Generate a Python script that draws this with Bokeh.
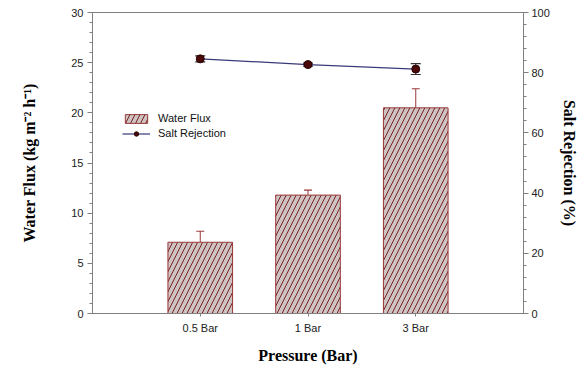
from bokeh.plotting import figure
from bokeh.models import Range1d, LinearAxis, FixedTicker, Whisker, TeeHead, ColumnDataSource, Legend, LegendItem
from bokeh.embed import file_html
from bokeh.resources import INLINE

categories = ["0.5 Bar", "1 Bar", "3 Bar"]
water_flux = [7.1, 11.8, 20.5]
water_flux_err = [1.1, 0.5, 1.9]
salt_rejection = [84.6, 82.7, 81.2]
salt_rejection_err = [1.0, 0.5, 1.8]
left_ticks = [0, 5, 10, 15, 20, 25, 30]
right_ticks = [0, 20, 40, 60, 80, 100]

xpos = [i + 1 for i in range(len(categories))]
src = ColumnDataSource(dict(
    x=xpos, wf=water_flux,
    wf_up=[v + e for v, e in zip(water_flux, water_flux_err)],
    sr=salt_rejection,
    sr_lo=[v - e for v, e in zip(salt_rejection, salt_rejection_err)],
    sr_up=[v + e for v, e in zip(salt_rejection, salt_rejection_err)],
))

p = figure(width=586, height=367, output_backend="svg", toolbar_location=None,
           x_range=Range1d(0, len(categories) + 1), y_range=Range1d(0, 30),
           min_border_left=92, min_border_right=63, min_border_top=12, min_border_bottom=54)
p.extra_y_ranges = {"sr": Range1d(0, 100)}
p.grid.visible = False
p.outline_line_color = "#808080"
p.background_fill_color = "white"
p.border_fill_color = "white"

axis_grey = "#808080"
tick_col = "#222222"

# x axis
xa = p.xaxis[0]
xa.ticker = FixedTicker(ticks=xpos)
xa.major_label_overrides = {x: c for x, c in zip(xpos, categories)}
xa.minor_tick_line_color = None
xa.major_tick_in = 0
xa.major_tick_out = 3
xa.axis_line_color = axis_grey
xa.major_tick_line_color = axis_grey
xa.major_label_text_font = "Liberation Sans"
xa.major_label_text_font_size = "11px"
xa.major_label_text_color = tick_col
xa.major_label_standoff = 5
xa.axis_label = "Pressure (Bar)"
xa.axis_label_text_font = "Liberation Serif"
xa.axis_label_text_font_style = "bold"
xa.axis_label_text_font_size = "16px"
xa.axis_label_text_color = "black"
xa.axis_label_standoff = 10

ya = p.yaxis[0]
ya.ticker = FixedTicker(ticks=left_ticks, minor_ticks=list(range(0, 31)))
ya.axis_line_color = axis_grey
ya.major_tick_line_color = axis_grey
ya.minor_tick_line_color = axis_grey
ya.major_tick_in = 0
ya.major_tick_out = 5
ya.minor_tick_in = 0
ya.minor_tick_out = 3
ya.major_label_text_font = "Liberation Sans"
ya.major_label_text_font_size = "11px"
ya.major_label_text_color = tick_col
ya.major_label_standoff = 4
ya.axis_label = "Water Flux (kg m\u207b\u00b2 h\u207b\u00b9)"
ya.axis_label_text_font = "Liberation Serif"
ya.axis_label_text_font_style = "bold"
ya.axis_label_text_font_size = "16px"
ya.axis_label_text_color = "black"
ya.axis_label_standoff = 30

ra = LinearAxis(y_range_name="sr")
ra.ticker = FixedTicker(ticks=right_ticks, minor_ticks=list(range(0, 101, 4)))
ra.axis_line_color = axis_grey
ra.major_tick_line_color = axis_grey
ra.minor_tick_line_color = axis_grey
ra.major_tick_in = 0
ra.major_tick_out = 5
ra.minor_tick_in = 0
ra.minor_tick_out = 3
ra.major_label_text_font = "Liberation Sans"
ra.major_label_text_font_size = "11px"
ra.major_label_text_color = tick_col
ra.major_label_standoff = 3
ra.axis_label = "Salt Rejection (%)"
ra.axis_label_text_font = "Liberation Serif"
ra.axis_label_text_font_style = "bold"
ra.axis_label_text_font_size = "16px"
ra.axis_label_text_color = "black"
ra.axis_label_standoff = 8
p.add_layout(ra, "right")

bar_line = "#9a3838"
bars = p.vbar(x="x", top="wf", width=0.6, source=src,
              fill_color="#cdc3c3", line_color=bar_line, line_width=1,
              hatch_pattern="/", hatch_color="#7a2020", hatch_scale=10, hatch_weight=1)

wb = Whisker(base="x", lower="wf", upper="wf_up", source=src,
             line_color=bar_line, line_width=1,
             upper_head=TeeHead(size=8, line_color=bar_line, line_width=1.2),
             lower_head=None)
p.add_layout(wb)

ws = Whisker(base="x", lower="sr_lo", upper="sr_up", source=src, y_range_name="sr",
             line_color="#333333", line_width=1,
             upper_head=TeeHead(size=10, line_color="#333333", line_width=1.2),
             lower_head=TeeHead(size=10, line_color="#333333", line_width=1.2))
p.add_layout(ws)

ln = p.line(x="x", y="sr", source=src, y_range_name="sr", line_color="#3a3a78", line_width=1.2)
pts = p.scatter(x="x", y="sr", source=src, y_range_name="sr", size=8,
                fill_color="#4a0808", line_color="#2a0000")

legend = Legend(items=[LegendItem(label="Water Flux", renderers=[bars]),
                       LegendItem(label="Salt Rejection", renderers=[ln, pts])],
                location=(30, 174))
legend.border_line_color = None
legend.background_fill_alpha = 0
legend.label_text_font = "Liberation Sans"
legend.label_text_font_size = "11px"
legend.label_text_color = "#111111"
legend.glyph_width = 28
legend.glyph_height = 11
legend.label_height = 12
legend.spacing = 3
legend.padding = 0
legend.margin = 0
legend.label_standoff = 8
p.add_layout(legend, "center")

open("out.html", "w").write(file_html(p, INLINE))
